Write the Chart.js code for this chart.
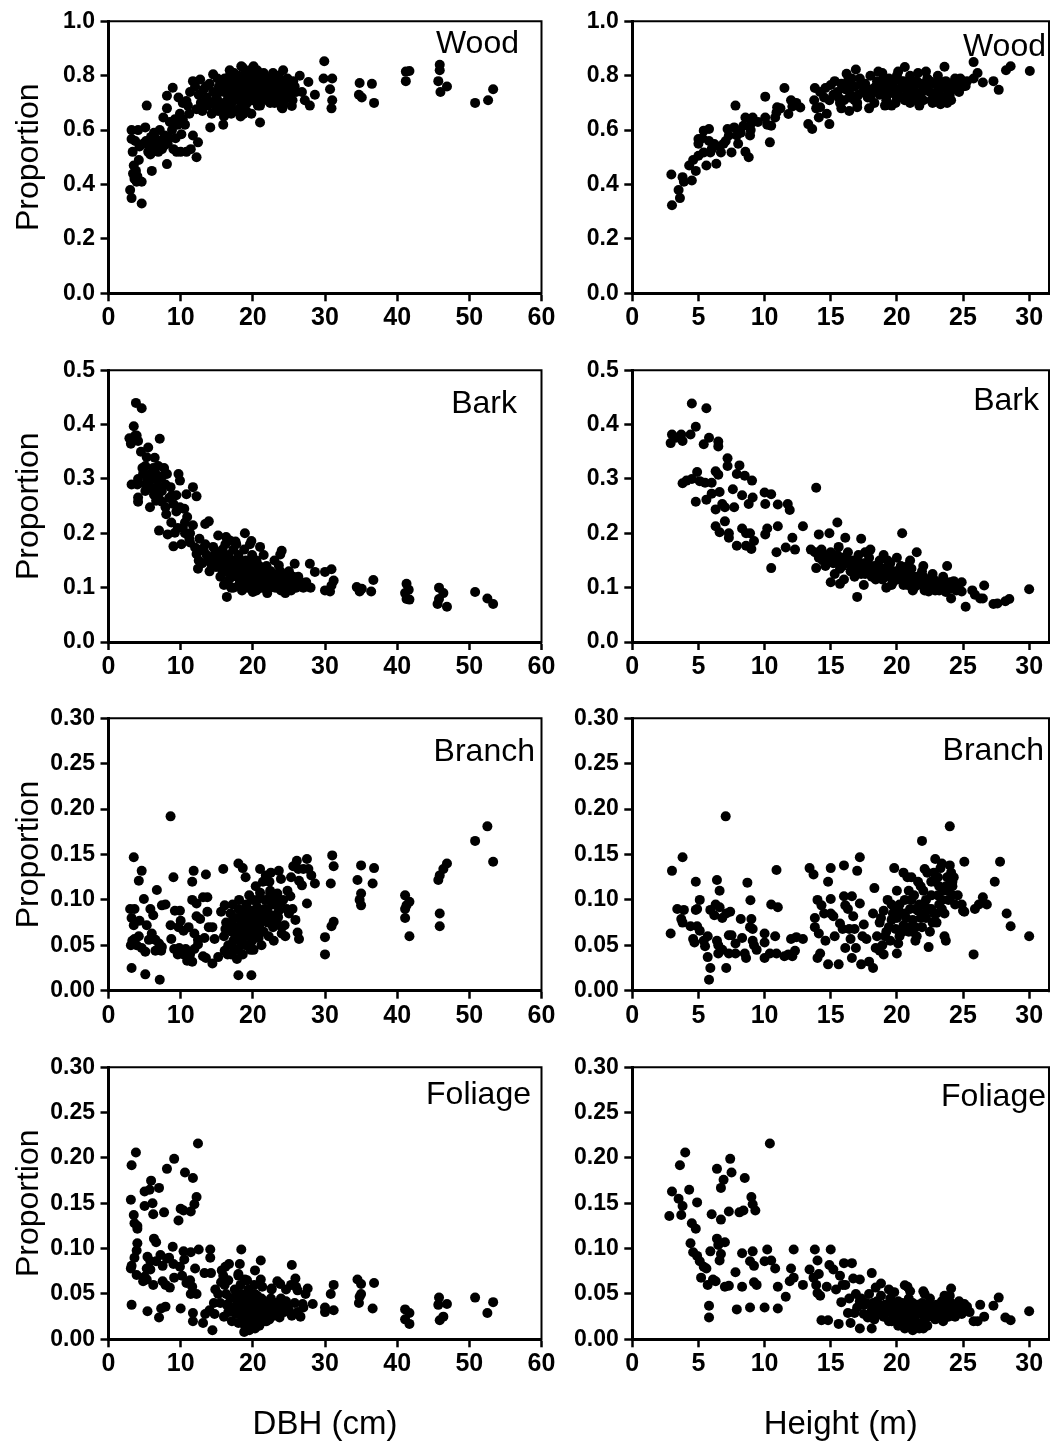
<!DOCTYPE html>
<html>
<head>
<meta charset="utf-8">
<script src="https://cdn.jsdelivr.net/npm/chart.js@4.4.1/dist/chart.umd.min.js"></script>
<style>
body{margin:0;background:#fff;width:1054px;height:1445px;position:relative;overflow:hidden}
canvas{position:absolute}
</style>
</head>
<body>
<script>
/* =========================
   DATA  [x, proportion]
========================= */
var woodDbh = [
[3.0,0.38],[3.2,0.35],[4.6,0.33],[3.4,0.44],[3.9,0.41],[4.6,0.41],[3.35,0.52],[3.2,0.567],[3.2,0.60],[4.1,0.60],
[5.1,0.61],[5.3,0.69],[6.0,0.45],[8.1,0.475],[5.7,0.54],[6.7,0.55],[7.4,0.53],[7.1,0.60],[7.6,0.646],[8.1,0.68],
[8.1,0.726],[8.9,0.756],[9.45,0.52],[10.8,0.52],[12.2,0.50],[12.4,0.555],[11.7,0.58],[10.1,0.585],[9.9,0.66],[10.8,0.707],
[11.3,0.74],[11.7,0.78],[12.7,0.786],[14.1,0.61],[14.5,0.805],[15.9,0.62],[18.4,0.835],[20.1,0.835],[21.0,0.628],[24.2,0.82],
[24.0,0.683],[25.4,0.689],[18.7,0.659],[16.4,0.664],[13.6,0.72],[12.2,0.677],
[3.5,0.47],[3.8,0.45],[4.2,0.49],[3.6,0.42],[4.0,0.43],[3.7,0.56],[4.3,0.54],[4.8,0.55],[5.2,0.56],[5.5,0.52],
[6.2,0.53],[6.5,0.57],[6.9,0.52],[7.3,0.56],[7.8,0.58],[8.2,0.55],[6.3,0.59],[5.9,0.575],[8.5,0.63],[8.8,0.60],
[9.2,0.64],[9.6,0.62],[10.3,0.64],[10.6,0.62],[11.2,0.66],[9.0,0.53],[10.0,0.52],[11.4,0.53],[12.8,0.70],[13.2,0.75],
[13.0,0.67],[13.8,0.69],[12.5,0.73],[14.3,0.66],[15.0,0.68],
[14.5,0.74],[15,0.72],[15.3,0.76],[15.6,0.70],[15.8,0.78],[16,0.74],[16.2,0.68],[16.4,0.77],[16.6,0.72],[16.8,0.80],
[17,0.75],[17.1,0.70],[17.3,0.78],[17.5,0.73],[17.6,0.67],[17.8,0.76],[18,0.80],[18,0.71],[18.2,0.74],[18.4,0.78],
[18.5,0.69],[18.7,0.76],[18.8,0.72],[19,0.81],[19,0.75],[19.2,0.70],[19.4,0.78],[19.5,0.73],[19.6,0.76],[19.8,0.66],
[20,0.79],[20,0.74],[20.2,0.71],[20.3,0.77],[20.5,0.75],[20.6,0.82],[20.8,0.72],[21,0.78],[21,0.69],[21.2,0.76],
[21.4,0.73],[21.6,0.80],[21.8,0.75],[22,0.71],[22,0.77],[22.3,0.74],[22.5,0.79],[22.7,0.72],[23,0.76],[23,0.70],
[23.3,0.78],[23.5,0.74],[23.8,0.72],[24,0.77],[24.2,0.70],[24.5,0.75],[24.8,0.79],[25,0.73],[25.2,0.77],[25.5,0.71],
[25.8,0.76],[26,0.74],[16,0.65],[17,0.66],[18.3,0.65],[19.1,0.67],[15.2,0.67],[14.2,0.70],[14,0.77],[16.8,0.82],
[18.6,0.83],[21.5,0.81],[22.8,0.81],[23.6,0.80],
[15.5,0.75],[16.1,0.79],[16.5,0.71],[16.9,0.77],[17.4,0.81],[17.7,0.74],[18.1,0.77],[18.9,0.79],[19.3,0.74],[19.7,0.80],
[20.4,0.73],[20.9,0.80],[21.3,0.71],[21.7,0.77],[22.2,0.75],[22.6,0.77],[23.2,0.73],[23.7,0.76],[24.3,0.78],[24.6,0.72],
[25.1,0.75],[25.6,0.78],[15.1,0.79],[14.8,0.71],[16.7,0.69],[19.9,0.71],[20.7,0.69],[22.4,0.70],[18.2,0.68],[17.2,0.72],
[19.6,0.82],[21.1,0.74],[23.9,0.74],[13.5,0.76],[12.0,0.76],[11.0,0.69],[10.3,0.70],[9.7,0.72],[6.0,0.56],[6.6,0.535],
[7.1,0.545],[5.8,0.51],[6.4,0.55],[7.6,0.54],[8.4,0.57],[9.3,0.57],
[26.5,0.80],[27.7,0.777],[28.6,0.73],[27.9,0.69],[24.1,0.68],[26.8,0.74],[27.2,0.71],[29.9,0.853],[29.8,0.79],[31.0,0.79],
[30.7,0.75],[31.0,0.71],[30.9,0.68],[34.8,0.773],[36.5,0.77],[34.7,0.73],[35.1,0.72],[36.8,0.70],[41.2,0.815],[41.7,0.817],
[41.2,0.78],[45.9,0.84],[45.9,0.82],[45.7,0.78],[46.9,0.76],[46.0,0.74],[50.8,0.70],[52.6,0.71],[53.3,0.75]
];

var woodHeight = [
[2.95,0.437],[3.0,0.324],[3.5,0.38],[3.6,0.35],[3.8,0.427],[3.9,0.41],[4.5,0.415],[4.3,0.47],[4.6,0.49],[4.8,0.45],
[5.0,0.506],[5.0,0.567],[5.0,0.55],[5.4,0.518],[5.4,0.598],[5.8,0.604],[5.6,0.47],[5.8,0.56],[5.9,0.518],[6.35,0.476],
[6.2,0.549],[6.6,0.54],[6.7,0.518],[7.06,0.56],[7.2,0.604],[7.5,0.518],[7.3,0.58],[7.7,0.61],[7.8,0.69],[7.9,0.58],
[8.0,0.55],[8.4,0.616],[8.55,0.646],[8.55,0.52],[8.8,0.50],[8.9,0.58],[9.0,0.625],[9.1,0.646],[8.95,0.60],[10.05,0.723],
[10.05,0.646],[10.2,0.62],[10.5,0.616],[10.4,0.555],[10.9,0.665],[10.95,0.684],[10.8,0.646],[11.5,0.755],[11.8,0.659],[12.0,0.71],
[12.1,0.687],[12.7,0.683],[13.3,0.622],[13.6,0.604],[13.75,0.71],[13.8,0.755],[14.1,0.646],[14.2,0.684],[14.6,0.755],[14.9,0.71],
[14.9,0.622],[15.0,0.766],[15.3,0.78],[15.6,0.72],[15.8,0.68],[16.2,0.807],[16.3,0.75],[16.4,0.67],[16.9,0.823],[17.0,0.684],
[20.6,0.832],[23.3,0.695],[23.6,0.833],[25.2,0.762],[25.8,0.85],[26.1,0.81],[25.8,0.79],[26.5,0.775],[27.3,0.78],[27.7,0.748],
[28.25,0.82],[28.6,0.835],[30.05,0.817],
[15.5,0.74],[15.8,0.77],[16,0.71],[16.3,0.78],[16.5,0.73],[16.8,0.76],[17,0.70],[17.2,0.79],[17.4,0.74],[17.6,0.77],
[17.8,0.72],[18,0.80],[18.1,0.75],[18.3,0.70],[18.5,0.78],[18.7,0.73],[18.9,0.81],[19,0.76],[19.2,0.71],[19.4,0.79],
[19.5,0.74],[19.7,0.77],[19.9,0.70],[20,0.80],[20.2,0.75],[20.4,0.72],[20.5,0.78],[20.8,0.74],[21,0.70],[21,0.80],
[21.2,0.76],[21.4,0.73],[21.6,0.81],[21.8,0.77],[22,0.71],[22.1,0.75],[22.3,0.79],[22.5,0.74],[22.7,0.70],[22.9,0.77],
[23.1,0.80],[23.3,0.75],[23.5,0.72],[23.7,0.78],[23.9,0.74],[24.1,0.71],[24.3,0.77],[24.5,0.75],[24.8,0.79],[25,0.76],
[17.9,0.68],[19.6,0.69],[21.7,0.69],[18.6,0.815],[20.1,0.815],[22.2,0.815],
[16.1,0.75],[16.6,0.79],[17.1,0.73],[17.5,0.76],[18.2,0.74],[18.8,0.77],[19.3,0.73],[19.8,0.75],[20.3,0.78],[20.7,0.76],
[21.1,0.73],[21.5,0.78],[21.9,0.74],[22.4,0.77],[22.8,0.73],[23.2,0.78],[23.6,0.76],[24.0,0.73],[24.4,0.79],[24.7,0.74],
[15.2,0.73],[15.7,0.70],[14.5,0.72],[14.2,0.74],[13.9,0.68],[14.7,0.66],[16.8,0.71],[19.1,0.69],[20.6,0.71],[22.6,0.71],
[23.8,0.70],[12.4,0.70],[11.2,0.68],[9.5,0.63],[8.2,0.59],[6.9,0.55],[6.0,0.53],[5.3,0.57],
[15.9,0.76],[16.4,0.72],[17.3,0.77],[17.7,0.74],[18.4,0.76],[18.9,0.74],[19.5,0.77],[19.9,0.73],[20.4,0.76],[20.9,0.78],
[21.3,0.75],[21.7,0.72],[22.0,0.76],[22.5,0.78],[23.0,0.74],[23.4,0.77],[23.9,0.77],[24.2,0.75],[24.6,0.77],[25.3,0.78],
[18.0,0.72],[19.0,0.79],[20.0,0.72],[21.2,0.71],[22.9,0.72]
];

var barkDbh = [
[3.8,0.44],[4.6,0.43],[3.5,0.397],[2.9,0.375],[3.1,0.365],[3.4,0.375],[3.7,0.38],[3.9,0.38],[4.1,0.37],[5.5,0.358],
[7.1,0.374],[6.4,0.339],[5.1,0.324],[6.9,0.324],[6.2,0.32],[5.75,0.309],[8.1,0.309],[7.4,0.304],[9.7,0.309],[9.9,0.297],
[3.2,0.29],[4.1,0.30],[4.0,0.29],[5.1,0.29],[6.2,0.30],[6.8,0.298],[5.1,0.278],[6.3,0.271],[7.4,0.278],[6.9,0.268],
[4.1,0.266],[4.1,0.258],[5.75,0.248],[7.4,0.258],[7.9,0.248],[8.8,0.27],[9.0,0.254],[9.9,0.248],[10.5,0.245],[10.8,0.272],
[11.7,0.285],[12.2,0.268],[7.0,0.205],[8.7,0.22],[8.2,0.198],[9.2,0.201],[9.6,0.21],[10.3,0.21],[10.6,0.2],[9.0,0.176],
[10.1,0.18],[11.3,0.2],[11.7,0.215],[11.3,0.183],[12.0,0.174],[13.4,0.217],[13.9,0.222],[12.2,0.162],[12.5,0.15],[12.4,0.135],
[13.2,0.168],[13.6,0.16],[14.3,0.141],[14.9,0.138],[15.2,0.196],[16.3,0.193],[16.8,0.187],[17.7,0.18],[16.4,0.083],[16.4,0.107],
[17.3,0.1],[18.9,0.2],[19.8,0.186],[20.0,0.092],[24.0,0.168],[23.8,0.161],[23.6,0.141],[23.9,0.095],[25.3,0.095],[25.8,0.144],
[27.9,0.144],[28.6,0.129],[30.0,0.129],[30.9,0.134],[31.2,0.113],[30.9,0.104],[30.0,0.095],[30.7,0.093],[34.4,0.101],[35.1,0.098],
[34.8,0.093],[36.7,0.114],[36.4,0.093],[41.3,0.107],[41.6,0.096],[41.1,0.09],[41.3,0.079],[41.7,0.078],[45.8,0.1],[46.4,0.09],
[45.8,0.079],[45.6,0.07],[46.9,0.065],[50.8,0.092],[52.5,0.08],[53.3,0.07],
[4.5,0.35],[5.3,0.34],[4.8,0.31],[5.8,0.285],[6.6,0.26],[7.9,0.29],[8.4,0.265],[9.4,0.24],[10.9,0.23],[8.0,0.235],
[12.8,0.17],[13.0,0.145],[14.0,0.13],[14.6,0.155],[15.5,0.12],[16.0,0.105],[13.4,0.18],[14.5,0.175],
[15,0.16],[15.4,0.14],[15.8,0.17],[16,0.15],[16.3,0.13],[16.6,0.16],[16.9,0.14],[17.1,0.12],[17.3,0.17],[17.5,0.15],
[17.8,0.13],[18,0.16],[18.2,0.11],[18.4,0.14],[18.6,0.12],[18.8,0.17],[19,0.15],[19.1,0.13],[19.3,0.10],[19.5,0.14],
[19.7,0.12],[19.9,0.16],[20.1,0.13],[20.3,0.11],[20.5,0.15],[20.7,0.12],[20.9,0.14],[21.1,0.10],[21.3,0.13],[21.5,0.16],
[21.7,0.11],[21.9,0.14],[22.1,0.12],[22.3,0.10],[22.5,0.13],[22.8,0.11],[23,0.15],[23.2,0.12],[23.5,0.10],[23.8,0.13],
[24,0.11],[24.3,0.12],[24.6,0.10],[25,0.13],[25.3,0.11],[25.6,0.12],[26,0.10],[26.3,0.12],[26.7,0.11],[27,0.10],
[27.4,0.11],[28,0.10],[17,0.10],[18.5,0.095],[20.5,0.095],[22,0.09],[24.5,0.09],[16.2,0.18],[17.6,0.185],[19.6,0.18],[21,0.175],
[15.2,0.15],[15.7,0.155],[16.1,0.14],[16.5,0.15],[16.8,0.125],[17.2,0.145],[17.6,0.135],[17.9,0.15],[18.3,0.125],[18.7,0.145],
[19.2,0.14],[19.5,0.12],[19.8,0.14],[20.2,0.15],[20.4,0.125],[20.8,0.135],[21.2,0.12],[21.6,0.135],[21.8,0.125],[22.2,0.13],
[22.6,0.115],[22.9,0.125],[23.3,0.115],[23.6,0.12],[24.1,0.125],[24.4,0.105],[24.8,0.115],[25.2,0.12],[25.8,0.11],[26.5,0.105],
[18.1,0.105],[19.6,0.105],[21.4,0.1],[23.1,0.1],[16.7,0.115],[15.8,0.13],[14.8,0.165],[13.8,0.15],[12.6,0.19],[11.2,0.19],
[10.6,0.22],[9.4,0.27],[8.6,0.285],[7.7,0.32],[6.5,0.31],[5.4,0.3],[4.7,0.32],[6.8,0.285],
[17.0,0.14],[17.8,0.12],[18.5,0.13],[19.4,0.125],[20.0,0.12],[20.6,0.11],[21.0,0.125],[21.9,0.115],[22.4,0.12],[23.4,0.11],
[24.2,0.115],[19.0,0.11],[16.5,0.14]
];

var barkHeight = [
[2.9,0.366],[3.0,0.382],[3.3,0.376],[3.7,0.382],[3.8,0.37],[4.5,0.439],[4.4,0.382],[4.8,0.396],[5.6,0.43],[5.4,0.364],
[5.8,0.376],[6.5,0.369],[6.5,0.36],[3.8,0.292],[4.1,0.297],[4.5,0.30],[4.9,0.313],[5.1,0.296],[5.5,0.293],[6.0,0.293],
[4.8,0.258],[5.6,0.262],[6.0,0.273],[6.3,0.314],[6.5,0.308],[7.2,0.338],[7.2,0.324],[6.6,0.276],[6.3,0.244],[6.8,0.254],
[7.0,0.248],[7.6,0.281],[7.7,0.248],[6.3,0.213],[6.6,0.202],[7.0,0.222],[7.3,0.2],[7.3,0.192],[8.1,0.325],[7.9,0.309],
[8.5,0.306],[9.05,0.297],[8.3,0.27],[8.8,0.254],[9.1,0.266],[8.3,0.209],[8.6,0.2],[8.9,0.2],[7.9,0.177],[8.6,0.177],
[9.0,0.171],[9.2,0.186],[10.0,0.275],[10.5,0.272],[10.05,0.254],[11.0,0.253],[10.05,0.198],[10.2,0.209],[11.0,0.213],[10.9,0.165],
[10.5,0.136],[11.75,0.254],[11.9,0.243],[11.6,0.174],[12.1,0.192],[12.3,0.17],[12.9,0.213],[13.9,0.284],[13.5,0.17],[13.9,0.136],
[14.1,0.198],[14.9,0.2],[15.0,0.11],[15.5,0.22],[15.7,0.107],[16.1,0.192],[17.0,0.083],[17.3,0.19],[20.4,0.2],[21.5,0.165],
[23.8,0.14],[24.1,0.08],[24.9,0.11],[25.2,0.065],[25.7,0.095],[25.9,0.087],[26.3,0.08],[26.5,0.08],[26.6,0.104],[27.3,0.07],
[27.6,0.071],[28.2,0.075],[28.5,0.079],[30.0,0.097],
[13.8,0.165],[14.1,0.155],[14.3,0.17],[14.5,0.16],[14.8,0.15],[15,0.165],[15.2,0.145],[15.5,0.16],[15.7,0.135],[15.9,0.155],
[16.1,0.145],[16.3,0.165],[16.5,0.13],[16.7,0.15],[16.9,0.14],[17.1,0.16],[17.3,0.125],[17.5,0.145],[17.7,0.135],[17.9,0.155],
[18.1,0.12],[18.3,0.14],[18.5,0.13],[18.7,0.15],[18.9,0.115],[19.1,0.135],[19.3,0.125],[19.5,0.145],[19.7,0.11],[19.9,0.13],
[20.1,0.12],[20.3,0.14],[20.5,0.105],[20.7,0.125],[20.9,0.115],[21.1,0.135],[21.3,0.1],[21.5,0.12],[21.7,0.11],[21.9,0.13],
[22.1,0.095],[22.3,0.115],[22.5,0.105],[22.7,0.125],[22.9,0.095],[23.1,0.11],[23.3,0.1],[23.5,0.12],[23.7,0.092],[23.9,0.105],
[24.1,0.098],[24.3,0.112],[24.6,0.1],[24.9,0.093],[18,0.17],[19,0.16],[20,0.155],[21,0.15],[22,0.14],[17.5,0.105],
[19.2,0.1],[15.3,0.125],[16,0.115],[14.6,0.14],
[14.4,0.15],[14.9,0.16],[15.4,0.15],[15.8,0.145],[16.2,0.155],[16.6,0.14],[17.0,0.15],[17.4,0.135],[17.8,0.145],[18.2,0.13],
[18.6,0.14],[19.0,0.125],[19.4,0.135],[19.8,0.12],[20.2,0.13],[20.6,0.115],[21.0,0.125],[21.4,0.11],[21.8,0.12],[22.2,0.105],
[22.6,0.11],[23.0,0.105],[23.4,0.108],[23.8,0.1],[24.2,0.105],[24.5,0.095],[16.8,0.12],[18.4,0.115],[19.6,0.105],[21.2,0.095],
[22.4,0.093],[15.6,0.175],[17.6,0.165],[19.3,0.15],[20.8,0.14],
[14.2,0.16],[15.1,0.155],[15.9,0.14],[16.4,0.145],[17.2,0.14],[17.6,0.125],[18.0,0.135],[18.8,0.13],[19.2,0.12],[19.6,0.13],
[20.0,0.115],[20.4,0.125],[20.8,0.105],[21.2,0.115],[21.6,0.105],[22.0,0.12],[22.4,0.1],[22.8,0.115],[23.2,0.095],[23.6,0.105],
[24.0,0.11],[24.4,0.1],[17.0,0.13],[18.4,0.125]
];

var branchDbh = [
[8.6,0.192],[3.5,0.147],[4.6,0.132],[4.2,0.121],[4.9,0.101],[3.0,0.09],[3.6,0.09],[3.2,0.08],[4.3,0.077],[3.5,0.072],
[3.3,0.055],[3.1,0.05],[3.2,0.025],[3.6,0.057],[4.2,0.06],[3.9,0.05],[4.6,0.047],[5.1,0.043],[5.1,0.018],[5.3,0.072],
[5.8,0.09],[6.2,0.083],[6.7,0.111],[7.4,0.094],[7.9,0.095],[6.0,0.063],[5.6,0.056],[6.5,0.056],[7.0,0.052],[7.4,0.048],
[6.5,0.044],[7.3,0.044],[7.1,0.012],[9.0,0.125],[9.2,0.088],[8.6,0.072],[8.7,0.057],[9.1,0.046],[9.6,0.04],[9.9,0.088],
[10.4,0.066],[11.1,0.07],[9.7,0.07],[10.0,0.077],[9.8,0.047],[10.7,0.046],[11.3,0.04],[10.9,0.033],[10.4,0.04],[11.8,0.132],
[11.6,0.12],[11.6,0.1],[12.2,0.096],[12.2,0.082],[12.7,0.079],[13.1,0.103],[11.9,0.063],[12.4,0.056],[13.3,0.058],[12.4,0.051],
[11.9,0.046],[11.6,0.032],[13.1,0.038],[13.5,0.036],[14.4,0.03],[13.5,0.128],[13.7,0.103],[13.7,0.087],[13.9,0.07],[14.4,0.07],
[14.7,0.057],[15.2,0.037],[15.9,0.134],[15.6,0.087],[16.1,0.094],[16.1,0.044],[17.0,0.04],[17.5,0.046],[18.0,0.017],[19.8,0.017],
[18.0,0.14],[18.6,0.135],[19.0,0.125],[21.0,0.134],[21.4,0.12],[21.8,0.127],[22.5,0.13],[23.6,0.132],[23.9,0.123],[22.3,0.12],
[22.4,0.107],[22.9,0.1],[23.4,0.107],[22.6,0.083],[23.5,0.081],[23.9,0.097],[24.7,0.09],[24.4,0.072],[24.0,0.063],[25.0,0.085],
[25.5,0.09],[25.2,0.104],[25.6,0.137],[26.1,0.143],[26.3,0.134],[26.4,0.121],[26.8,0.116],[25.9,0.078],[26.2,0.064],[26.4,0.057],
[27.0,0.134],[27.5,0.145],[27.7,0.134],[28.1,0.127],[28.6,0.118],[27.5,0.096],[30.0,0.059],[30.0,0.04],[30.8,0.118],[31.0,0.149],
[31.2,0.137],[30.9,0.071],[31.2,0.076],[34.5,0.122],[35.0,0.138],[35.0,0.107],[34.8,0.1],[35.0,0.094],[36.6,0.118],[36.8,0.135],
[41.1,0.105],[41.7,0.098],[41.3,0.094],[41.1,0.09],[41.1,0.08],[41.7,0.06],[45.7,0.122],[45.9,0.127],[46.4,0.134],[46.9,0.14],
[45.9,0.085],[45.9,0.071],[50.8,0.165],[52.5,0.181],[53.3,0.142],
[16,0.06],[16.3,0.075],[16.6,0.05],[16.9,0.085],[17.1,0.065],[17.3,0.055],[17.5,0.08],[17.7,0.07],[17.9,0.045],[18,0.09],
[18.2,0.062],[18.4,0.075],[18.5,0.055],[18.7,0.085],[18.9,0.068],[19,0.05],[19.1,0.095],[19.3,0.078],[19.4,0.06],[19.6,0.072],
[19.8,0.088],[19.9,0.055],[20,0.1],[20.2,0.065],[20.3,0.08],[20.5,0.07],[20.6,0.092],[20.8,0.058],[21,0.108],[21.1,0.075],
[21.3,0.085],[21.5,0.065],[21.7,0.1],[21.9,0.078],[22,0.09],[22.2,0.06],[22.4,0.11],[22.6,0.082],[22.8,0.07],[23,0.095],
[23.3,0.075],[23.6,0.088],[24,0.07],[17.2,0.095],[18.1,0.1],[19.5,0.105],[20.4,0.115],[18.6,0.04],[20.1,0.045],[21.2,0.05],
[22.9,0.055],[24.5,0.06],[16.5,0.04],[17.8,0.035],
[16.8,0.07],[17.4,0.065],[17.9,0.08],[18.3,0.07],[18.6,0.065],[18.8,0.075],[19.2,0.085],[19.5,0.065],[19.7,0.08],[20.1,0.075],
[20.4,0.06],[20.7,0.085],[20.9,0.07],[21.4,0.08],[21.6,0.09],[22.1,0.075],[17.6,0.06],[18.4,0.05],[19.8,0.06],[20.6,0.1],
[21.8,0.085],[22.7,0.095],[23.2,0.105],[24.2,0.1],[24.8,0.11],[25.3,0.125],[19.7,0.045],[18.9,0.09],[17.0,0.075],[16.2,0.068]
];

var branchHeight = [
[7.06,0.192],[3.0,0.132],[3.8,0.147],[2.9,0.063],[3.4,0.09],[3.9,0.089],[3.7,0.079],[3.8,0.075],[4.4,0.071],[4.8,0.089],
[4.9,0.09],[4.8,0.12],[5.1,0.1],[4.9,0.071],[5.1,0.066],[4.6,0.057],[4.7,0.053],[5.4,0.055],[5.7,0.06],[5.5,0.049],
[5.7,0.037],[5.9,0.025],[5.8,0.012],[5.9,0.089],[6.2,0.083],[6.4,0.122],[6.3,0.095],[6.6,0.092],[6.6,0.11],[6.8,0.08],
[7.1,0.085],[7.4,0.087],[6.4,0.055],[6.5,0.05],[6.5,0.041],[6.8,0.045],[7.1,0.025],[7.3,0.061],[7.5,0.061],[7.3,0.041],
[7.8,0.052],[7.8,0.041],[8.2,0.079],[8.3,0.058],[8.5,0.041],[8.6,0.036],[8.7,0.119],[8.9,0.07],[9.0,0.079],[9.1,0.055],
[9.2,0.05],[9.4,0.045],[9.1,0.068],[8.93,0.0996],[10.0,0.063],[10.0,0.053],[10.0,0.036],[10.5,0.095],[10.8,0.06],[11.0,0.092],
[10.9,0.133],[10.4,0.041],[10.9,0.041],[11.5,0.038],[11.8,0.04],[12.0,0.057],[12.1,0.038],[12.3,0.044],[12.4,0.059],[12.9,0.057],
[13.4,0.135],[13.7,0.128],[13.8,0.08],[13.8,0.07],[14.0,0.1],[14.1,0.063],[14.2,0.041],[14.0,0.036],[14.3,0.094],[14.5,0.085],
[14.6,0.055],[14.8,0.12],[14.8,0.029],[15.0,0.101],[15.0,0.085],[15.0,0.135],[15.2,0.082],[15.3,0.06],[15.6,0.029],[15.7,0.074],
[15.9,0.068],[16.0,0.104],[16.0,0.138],[16.1,0.094],[16.1,0.047],[16.3,0.09],[16.4,0.068],[16.5,0.057],[16.6,0.036],[16.6,0.104],
[16.7,0.082],[16.8,0.068],[16.9,0.047],[17.0,0.132],[17.2,0.147],[17.2,0.096],[17.3,0.029],[17.4,0.06],[17.5,0.073],[17.7,0.057],
[17.9,0.032],[18.2,0.025],[18.3,0.113],[18.2,0.085],[18.4,0.047],[18.7,0.044],[19.0,0.04],[20.0,0.041],[24.0,0.181],[21.9,0.165],
[25.1,0.142],[25.0,0.088],[25.8,0.04],[25.9,0.09],[26.2,0.095],[26.5,0.103],[26.8,0.095],[27.4,0.12],[27.8,0.142],[28.3,0.085],
[28.6,0.071],[30.0,0.06],
[18.5,0.06],[18.7,0.075],[18.9,0.05],[19,0.088],[19.2,0.065],[19.3,0.1],[19.5,0.055],[19.6,0.078],[19.8,0.092],[19.9,0.068],
[20,0.11],[20.2,0.06],[20.3,0.085],[20.5,0.072],[20.6,0.1],[20.8,0.125],[20.9,0.065],[21,0.09],[21.2,0.078],[21.3,0.105],
[21.5,0.06],[21.6,0.088],[21.8,0.115],[21.9,0.07],[22,0.095],[22.2,0.08],[22.3,0.13],[22.5,0.065],[22.6,0.105],[22.8,0.085],
[22.9,0.12],[23,0.075],[23.2,0.095],[23.3,0.135],[23.5,0.11],[23.6,0.085],[23.8,0.125],[23.9,0.1],[24.1,0.13],[24.2,0.115],
[24.4,0.095],[24.6,0.105],[23.7,0.055],[23.6,0.06],[22.4,0.048],[21.4,0.055],[20.1,0.052],[22.9,0.145],[23.4,0.14],[24,0.138],
[24.2,0.12],[22.1,0.134],[21.1,0.125],[20.5,0.13],[19.8,0.135],[25.1,0.087],[24.9,0.095],
[19.4,0.07],[19.7,0.085],[20.1,0.09],[20.4,0.065],[20.7,0.08],[21.1,0.1],[21.4,0.07],[21.7,0.095],[22.1,0.085],[22.4,0.09],
[22.7,0.075],[23.1,0.105],[23.4,0.09],[23.7,0.115],[20.9,0.11],[22.0,0.11],[21.2,0.065],[19.1,0.06],[18.8,0.08],[24.3,0.125],
[23.1,0.125],[22.6,0.12],
[20.2,0.095],[20.6,0.085],[21.0,0.07],[21.4,0.09],[21.8,0.08],[22.2,0.1],[22.6,0.09],[23.0,0.085],[23.4,0.1],[23.8,0.11],
[24.2,0.105],[19.6,0.095],[20.0,0.08],[22.8,0.13],[23.2,0.115],[21.6,0.12]
];

var foliageDbh = [
[12.4,0.216],[3.8,0.206],[3.2,0.192],[9.1,0.199],[8.1,0.188],[10.6,0.184],[11.7,0.178],[5.9,0.175],[5.0,0.163],[5.7,0.165],
[7.0,0.167],[3.1,0.154],[12.2,0.157],[6.1,0.15],[11.9,0.149],[5.0,0.147],[10.0,0.144],[10.4,0.142],[7.7,0.14],[6.2,0.138],
[3.5,0.137],[11.4,0.141],[9.7,0.131],[3.6,0.128],[4.0,0.125],[4.0,0.122],[6.3,0.111],[6.6,0.107],[4.0,0.106],[3.9,0.098],
[3.6,0.09],[3.2,0.081],[3.1,0.078],[8.9,0.102],[10.4,0.097],[11.4,0.096],[12.5,0.099],[14.1,0.099],[14.1,0.09],[5.4,0.091],
[5.8,0.086],[6.6,0.086],[7.2,0.093],[7.5,0.081],[8.1,0.089],[8.4,0.09],[9.0,0.083],[10.5,0.088],[9.9,0.08],[12.0,0.078],
[14.2,0.073],[5.3,0.078],[5.8,0.077],[3.9,0.071],[5.0,0.069],[5.3,0.066],[4.8,0.064],[9.1,0.068],[10.2,0.07],[10.8,0.062],
[13.3,0.073],[7.5,0.064],[6.2,0.06],[7.9,0.06],[8.5,0.057],[3.2,0.038],[5.4,0.031],[7.0,0.024],[7.3,0.034],[7.9,0.036],
[10.0,0.034],[11.3,0.065],[11.6,0.058],[11.4,0.05],[11.7,0.029],[11.7,0.02],[12.2,0.05],[13.1,0.018],[14.4,0.01],[13.4,0.028],
[14.0,0.032],[14.7,0.028],[14.6,0.04],[15.7,0.076],[16.2,0.08],[16.7,0.083],[15.9,0.07],[16.6,0.065],[16.1,0.06],[15.6,0.063],
[18.4,0.099],[18.2,0.083],[18.0,0.072],[18.0,0.07],[18.9,0.066],[20.3,0.076],[21.1,0.087],[21.1,0.066],[22.6,0.056],[23.4,0.064],
[23.8,0.061],[25.4,0.082],[25.9,0.067],[25.3,0.06],[26.0,0.058],[24.6,0.055],[26.2,0.054],[27.6,0.056],[27.3,0.05],[28.3,0.039],
[23.9,0.035],[26.9,0.039],[30.0,0.035],[30.0,0.03],[30.8,0.05],[31.2,0.06],[31.2,0.032],[34.5,0.066],[35.0,0.061],[35.0,0.05],
[34.8,0.047],[34.7,0.04],[36.6,0.034],[36.8,0.062],[41.1,0.033],[41.7,0.029],[41.1,0.022],[41.7,0.017],[45.8,0.046],[45.7,0.038],
[46.9,0.039],[45.9,0.021],[46.4,0.025],[50.8,0.046],[52.5,0.029],[53.3,0.041],
[15.5,0.04],[16,0.025],[16.3,0.05],[16.6,0.03],[16.9,0.045],[17.1,0.02],[17.3,0.035],[17.5,0.055],[17.7,0.028],[17.9,0.042],
[18,0.018],[18.2,0.033],[18.4,0.05],[18.5,0.025],[18.7,0.038],[18.9,0.015],[19,0.045],[19.1,0.03],[19.3,0.022],[19.4,0.055],
[19.6,0.035],[19.7,0.012],[19.9,0.028],[20,0.042],[20.1,0.02],[20.3,0.05],[20.4,0.033],[20.6,0.025],[20.7,0.04],[20.9,0.018],
[21,0.03],[21.2,0.045],[21.4,0.025],[21.5,0.036],[21.7,0.02],[21.9,0.04],[22.1,0.03],[22.3,0.022],[22.5,0.045],[22.7,0.032],
[22.9,0.026],[23.1,0.04],[23.4,0.03],[23.7,0.024],[24,0.037],[24.3,0.03],[24.6,0.042],[25,0.032],[25.4,0.026],[25.8,0.04],
[26.2,0.03],[26.6,0.025],[27,0.035],[18.3,0.06],[19.2,0.065],[20.2,0.06],[21.3,0.058],[22.6,0.055],[19.5,0.01],[20.3,0.012],
[18.8,0.008],
[17.4,0.03],[17.8,0.035],[18.1,0.045],[18.4,0.028],[18.6,0.04],[19.0,0.032],[19.2,0.018],[19.5,0.04],[19.8,0.025],[20.0,0.035],
[20.2,0.028],[20.5,0.04],[20.8,0.032],[21.1,0.022],[21.3,0.04],[21.6,0.03],[21.8,0.035],[22.2,0.04],[22.4,0.028],[22.8,0.038],
[19.3,0.048],[20.6,0.048],[18.7,0.022],[20.9,0.015],[21.9,0.02],[23.3,0.035],[24.8,0.035],[23.9,0.045],[17.6,0.048],[16.4,0.038],
[15.2,0.05],[14.8,0.055]
];

var foliageHeight = [
[10.4,0.216],[4.0,0.206],[3.6,0.192],[7.4,0.199],[6.4,0.188],[7.5,0.184],[8.5,0.178],[6.9,0.176],[6.7,0.167],[3.0,0.163],
[4.3,0.165],[3.5,0.155],[3.8,0.147],[4.9,0.151],[9.0,0.157],[9.1,0.149],[9.3,0.142],[2.8,0.136],[3.7,0.137],[6.0,0.138],
[6.7,0.132],[7.3,0.141],[8.1,0.14],[8.4,0.142],[4.5,0.128],[4.8,0.122],[6.4,0.111],[7.0,0.107],[6.5,0.104],[4.4,0.106],
[4.6,0.096],[5.9,0.097],[6.7,0.094],[6.6,0.087],[8.3,0.095],[9.1,0.097],[10.2,0.099],[12.2,0.099],[13.8,0.099],[15.0,0.099],
[4.9,0.092],[5.1,0.086],[5.4,0.08],[5.6,0.078],[5.2,0.068],[5.7,0.06],[5.8,0.037],[5.8,0.024],[6.1,0.066],[6.3,0.064],
[7.0,0.058],[7.3,0.059],[7.8,0.074],[7.9,0.033],[8.3,0.058],[8.9,0.086],[8.9,0.035],[9.2,0.081],[9.2,0.063],[9.4,0.06],
[10.0,0.035],[10.0,0.086],[10.5,0.087],[10.8,0.078],[11.0,0.058],[11.0,0.034],[11.6,0.047],[12.0,0.078],[11.9,0.064],[12.2,0.068],
[12.9,0.06],[13.4,0.077],[13.7,0.068],[13.9,0.06],[14.0,0.051],[14.2,0.048],[14.3,0.021],[14.0,0.087],[14.1,0.072],[14.8,0.021],
[14.7,0.058],[14.9,0.082],[15.2,0.077],[15.6,0.017],[15.7,0.07],[15.8,0.041],[16.0,0.084],[16.1,0.06],[16.3,0.029],[16.5,0.018],
[16.6,0.084],[16.7,0.067],[16.8,0.029],[17.2,0.012],[17.2,0.066],[17.2,0.042],[17.8,0.024],[18.1,0.012],[18.1,0.073],[18.4,0.057],
[18.8,0.0615],[19.0,0.035],[19.8,0.052],[20.6,0.0596],[21.0,0.053],[22.0,0.053],[24.1,0.056],[24.0,0.048],[25.1,0.039],[25.8,0.02],
[26.1,0.02],[26.3,0.038],[26.6,0.025],[27.3,0.037],[27.7,0.046],[28.2,0.024],[28.6,0.021],[30.0,0.031],
[17,0.035],[17.3,0.045],[17.5,0.028],[17.7,0.04],[17.9,0.05],[18.1,0.032],[18.3,0.022],[18.5,0.042],[18.6,0.03],[18.8,0.048],
[19,0.025],[19.1,0.038],[19.3,0.03],[19.5,0.045],[19.6,0.02],[19.8,0.035],[20,0.028],[20.1,0.042],[20.3,0.018],[20.4,0.032],
[20.6,0.038],[20.7,0.025],[20.9,0.045],[21,0.015],[21.1,0.03],[21.3,0.022],[21.4,0.036],[21.6,0.028],[21.7,0.012],[21.9,0.04],
[22,0.02],[22.2,0.032],[22.4,0.025],[22.5,0.045],[22.7,0.03],[22.9,0.022],[23,0.038],[23.2,0.028],[23.4,0.042],[23.5,0.02],
[23.7,0.033],[23.9,0.025],[24.1,0.04],[24.3,0.03],[24.6,0.035],[24.9,0.028],[25.2,0.033],[25.5,0.03],[20.8,0.058],[22.1,0.05],
[23.6,0.048],[19.4,0.055],[21.2,0.01],[20.6,0.012],
[18.2,0.04],[18.7,0.036],[19.2,0.033],[19.7,0.04],[20.2,0.035],[20.5,0.025],[20.8,0.032],[21.2,0.04],[21.5,0.018],[21.8,0.033],
[22.1,0.038],[22.3,0.015],[22.6,0.036],[23.1,0.033],[23.3,0.025],[23.8,0.038],[24.4,0.025],[24.7,0.042],[25.0,0.036],[19.9,0.022],
[20.9,0.02],[17.5,0.038],[16.9,0.05],[16.4,0.045],[15.9,0.06],[15.4,0.055],
[18.0,0.028],[18.4,0.035],[18.9,0.03],[19.3,0.038],[19.7,0.028],[20.0,0.035],[20.4,0.04],[20.7,0.03],[21.0,0.025],[21.3,0.03],
[21.6,0.038],[21.9,0.028],[22.2,0.025],[22.6,0.03],[22.9,0.035],[23.2,0.038],[23.6,0.03],[24.0,0.033],[24.4,0.035],[24.8,0.03],
[25.3,0.036],[20.1,0.015],[22.0,0.012],[19.4,0.02]
];

// panels by row, columns = DBH / Height
var panelNames = ["Wood", "Bark", "Branch", "Foliage"];
var panelData = [[woodDbh, woodHeight], [barkDbh, barkHeight], [branchDbh, branchHeight], [foliageDbh, foliageHeight]];
var yMax = [1.0, 0.5, 0.30, 0.30];
var yStep = [0.2, 0.1, 0.05, 0.05];
var yDecimals = [1, 1, 2, 2];
var xTitles = ["DBH (cm)", "Height (m)"];
var xMax = [60, 31.5];
var xTickValues = [[0, 10, 20, 30, 40, 50, 60], [0, 5, 10, 15, 20, 25, 30]];
var yTitle = "Proportion";

/* =========================
   LAYOUT
========================= */
var FONT = '"Liberation Sans", Arial, Helvetica, sans-serif';
var rowTop = [20, 369, 717.3, 1066.7];
var rowBottom = [293.3, 642, 990.7, 1339.3];
var colLeft = [0, 565];
var colWidth = [562, 489];
var yAxisW = [108.5, 67.3];
var padRight = [20.5, 0];
// panel name offsets from the plot's top-right corner
var namePos = [
  [[-22.5, 31.7], [-3, 35]],
  [[-24.5, 42.7], [-10, 40]],
  [[-6.5, 42.7], [-5, 41.7]],
  [[-10.5, 36.3], [-3, 38.3]]
];

var framePlugin = {
  id: "frame",
  afterDraw: function(chart, args, opts){
    var a = chart.chartArea, ctx = chart.ctx;
    ctx.save();
    ctx.strokeStyle = "#000";
    ctx.lineWidth = 2;
    ctx.beginPath();
    ctx.moveTo(a.left - 1.5, a.top);
    ctx.lineTo(a.right, a.top);
    ctx.lineTo(a.right, a.bottom + 1.5);
    ctx.stroke();
    ctx.font = "32px " + FONT;
    ctx.fillStyle = "#000";
    ctx.textAlign = "right";
    ctx.textBaseline = "alphabetic";
    ctx.fillText(opts.text, a.right + opts.dx, a.top + opts.dy);
    ctx.restore();
  }
};

function makePanel(r, c){
  var canvas = document.createElement("canvas");
  var top = Math.floor(rowTop[r] - 18);
  var padTop = rowTop[r] - top;
  var height = (r == 3) ? 1445 - top : Math.round(rowBottom[r] + 42 - top);
  var xH = height - padTop - (rowBottom[r] - rowTop[r]);
  canvas.width = colWidth[c];
  canvas.height = height;
  canvas.style.left = colLeft[c] + "px";
  canvas.style.top = top + "px";
  document.body.appendChild(canvas);

  var pts = panelData[r][c].map(function(p){ return {x: p[0], y: p[1]}; });

  new Chart(canvas.getContext("2d"), {
    type: "scatter",
    data: { datasets: [{
      data: pts,
      backgroundColor: "#000",
      borderWidth: 0,
      pointRadius: 5,
      pointHoverRadius: 5
    }]},
    options: {
      responsive: false,
      animation: false,
      events: [],
      layout: { padding: { top: padTop, right: padRight[c], left: 0, bottom: 0 } },
      plugins: {
        legend: { display: false },
        tooltip: { enabled: false },
        frame: { text: panelNames[r], dx: namePos[r][c][0], dy: namePos[r][c][1] }
      },
      scales: {
        x: {
          type: "linear",
          min: 0, max: xMax[c],
          afterBuildTicks: function(s){
            s.ticks = xTickValues[c].map(function(v){ return {value: v}; });
          },
          afterFit: function(s){ s.height = xH; },
          ticks: {
            color: "#000",
            padding: 2,
            maxRotation: 0,
            autoSkip: false,
            font: { family: FONT, size: 25, weight: "bold" }
          },
          grid: { drawOnChartArea: false, drawTicks: true, tickLength: 8, tickWidth: 2.5, tickColor: "#000" },
          border: { display: true, color: "#000", width: 3 },
          title: {
            display: r == 3,
            text: xTitles[c],
            color: "#000",
            padding: { top: 0, bottom: 0 },
            font: { family: FONT, size: 33 }
          }
        },
        y: {
          min: 0, max: yMax[r],
          afterFit: function(s){ s.width = yAxisW[c]; },
          ticks: {
            stepSize: yStep[r],
            color: "#000",
            padding: 5.5,
            font: { family: FONT, size: 23, weight: "bold" },
            callback: function(v){ return Number(v).toFixed(yDecimals[r]); }
          },
          grid: { drawOnChartArea: false, drawTicks: true, tickLength: 8, tickWidth: 2.5, tickColor: "#000" },
          border: { display: true, color: "#000", width: 3 },
          title: {
            display: c == 0,
            text: yTitle,
            color: "#000",
            padding: { top: 10, bottom: 0 },
            font: { family: FONT, size: 32 }
          }
        }
      }
    },
    plugins: [framePlugin]
  });
}

for (var r = 0; r < 4; r++){
  for (var c = 0; c < 2; c++){
    makePanel(r, c);
  }
}
</script>
</body>
</html>
